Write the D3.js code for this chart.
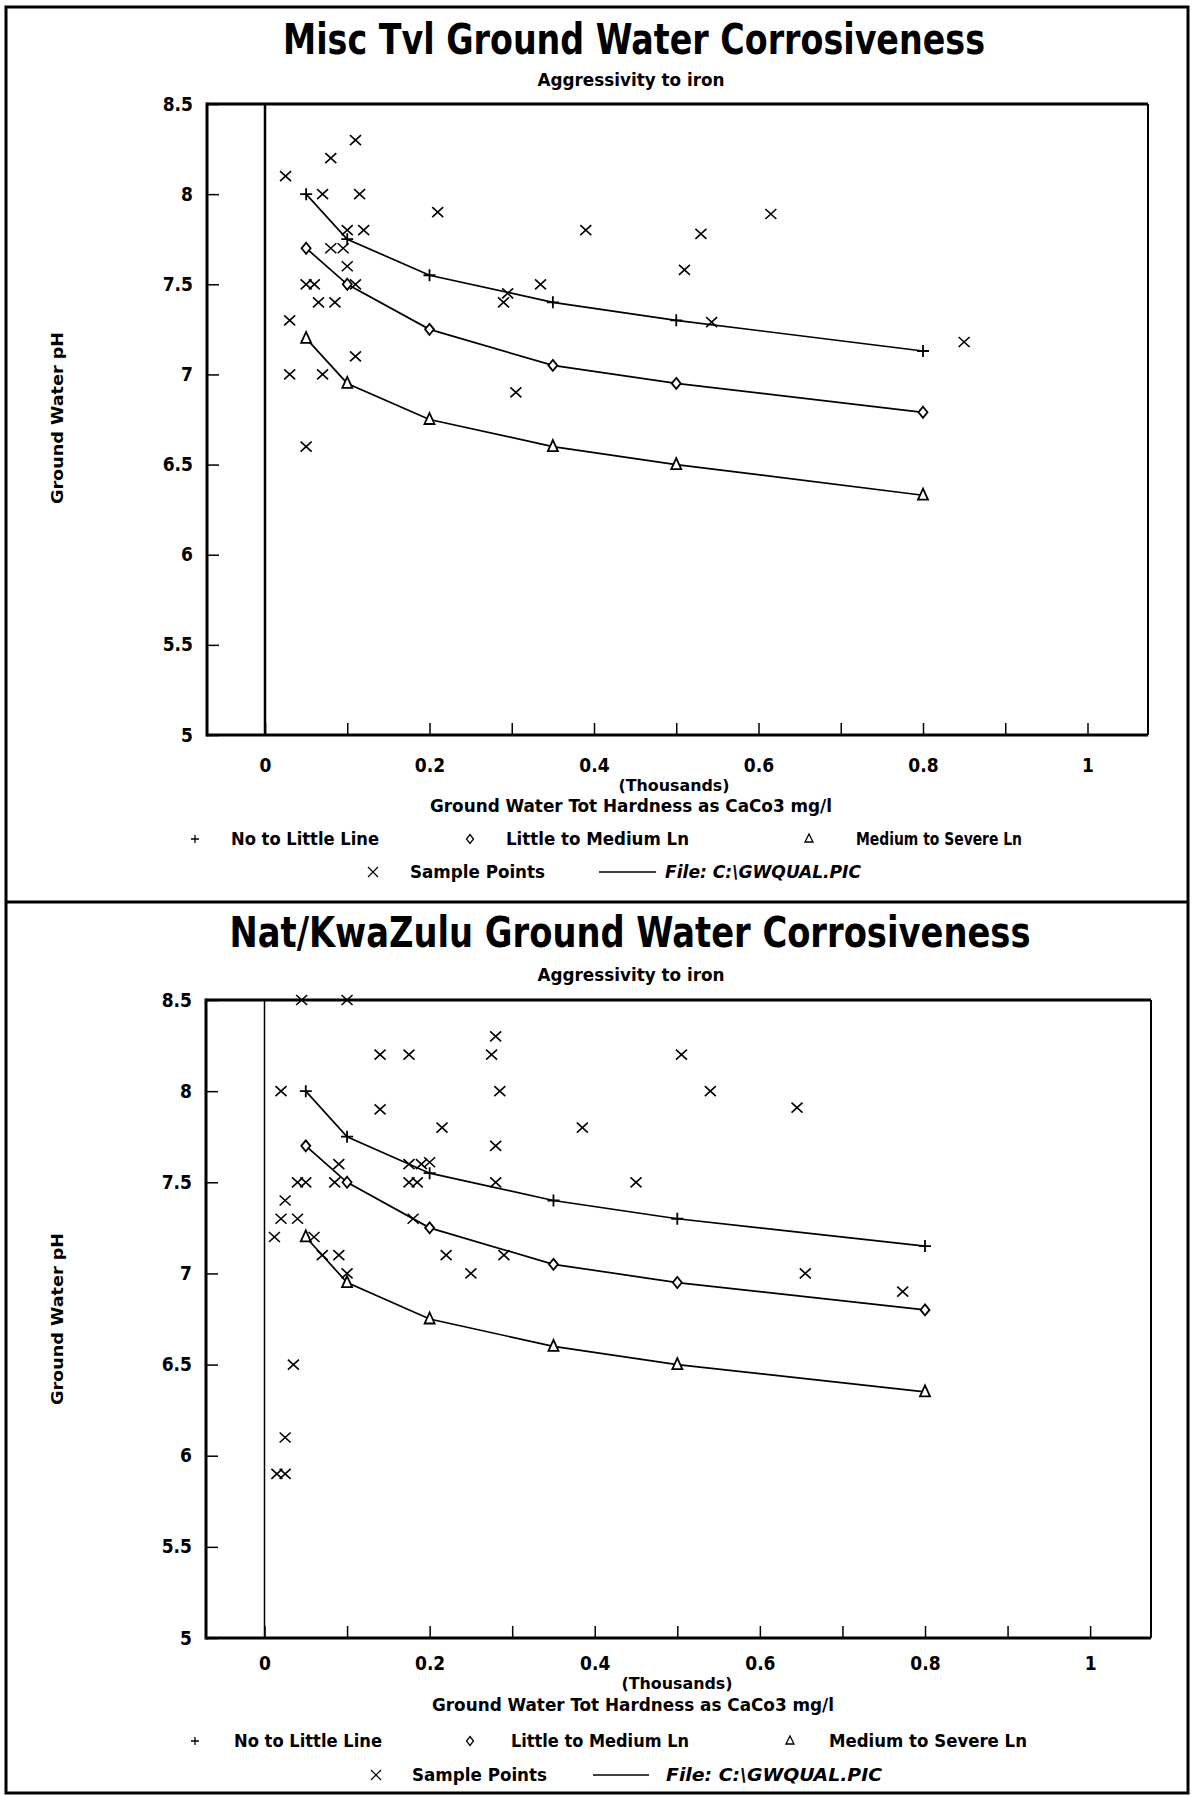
<!DOCTYPE html>
<html><head><meta charset="utf-8">
<script src="https://cdn.jsdelivr.net/npm/d3@7"></script>
<style>
body{margin:0;background:#fff}
svg text{font-family:"Liberation Sans Narrow","DejaVu Sans Condensed","Liberation Sans",Arial,sans-serif;font-weight:bold;fill:#000}
</style>
</head><body>
<svg id="c" width="1193" height="1795"></svg>
<script>
// ---------- DATA ----------
const lineX = [0.05, 0.1, 0.2, 0.35, 0.5, 0.8];

const tvlNoLittle   = [8.0, 7.75, 7.55, 7.4, 7.3, 7.13];
const tvlLittleMed  = [7.7, 7.5, 7.25, 7.05, 6.95, 6.79];
const tvlMedSevere  = [7.2, 6.95, 6.75, 6.6, 6.5, 6.33];

const natNoLittle   = [8.0, 7.75, 7.55, 7.4, 7.3, 7.15];
const natLittleMed  = [7.7, 7.5, 7.25, 7.05, 6.95, 6.8];
const natMedSevere  = [7.2, 6.95, 6.75, 6.6, 6.5, 6.35];

const tvlSampleX = [0.11, 0.08, 0.025, 0.07, 0.115, 0.21, 0.1, 0.12, 0.39, 0.53, 0.615, 0.51,
                    0.08, 0.095, 0.1, 0.05, 0.06, 0.11, 0.065, 0.085, 0.29, 0.295, 0.335, 0.543,
                    0.85, 0.03, 0.11, 0.03, 0.07, 0.305, 0.05];
const tvlSampleY = [8.3, 8.2, 8.1, 8.0, 8.0, 7.9, 7.8, 7.8, 7.8, 7.78, 7.89, 7.58,
                    7.7, 7.7, 7.6, 7.5, 7.5, 7.5, 7.4, 7.4, 7.4, 7.45, 7.5, 7.29,
                    7.18, 7.3, 7.1, 7.0, 7.0, 6.9, 6.6];

const natSampleX = [0.045, 0.1, 0.28, 0.14, 0.175, 0.275, 0.02, 0.285, 0.14, 0.215, 0.385, 0.28,
                    0.09, 0.175, 0.19, 0.2, 0.04, 0.05, 0.085, 0.175, 0.185, 0.28, 0.45, 0.025,
                    0.02, 0.04, 0.012, 0.06, 0.18, 0.07, 0.09, 0.22, 0.29, 0.25, 0.1,
                    0.505, 0.54, 0.645, 0.655, 0.773, 0.035, 0.025, 0.015, 0.025];
const natSampleY = [8.5, 8.5, 8.3, 8.2, 8.2, 8.2, 8.0, 8.0, 7.9, 7.8, 7.8, 7.7,
                    7.6, 7.6, 7.6, 7.61, 7.5, 7.5, 7.5, 7.5, 7.5, 7.5, 7.5, 7.4,
                    7.3, 7.3, 7.2, 7.2, 7.3, 7.1, 7.1, 7.1, 7.1, 7.0, 7.0,
                    8.2, 8.0, 7.91, 7.0, 6.9, 6.5, 6.1, 5.9, 5.9];

const yTicks = [5, 5.5, 6, 6.5, 7, 7.5, 8, 8.5];
const yTickLabels = ["5", "5.5", "6", "6.5", "7", "7.5", "8", "8.5"];
const xMinorTicks = [0, 0.1, 0.2, 0.3, 0.4, 0.5, 0.6, 0.7, 0.8, 0.9, 1.0];
const xTicks = [0, 0.2, 0.4, 0.6, 0.8, 1.0];
const xTickLabels = ["0", "0.2", "0.4", "0.6", "0.8", "1"];

const titles = ["Misc Tvl Ground Water Corrosiveness", "Nat/KwaZulu Ground Water Corrosiveness"];
const subtitle = "Aggressivity to iron";
const xUnit = "(Thousands)";
const xTitle = "Ground Water Tot Hardness as CaCo3 mg/l";
const yTitle = "Ground Water pH";
const legendLabels = ["No to Little Line", "Little to Medium Ln", "Medium to Severe Ln", "Sample Points", "File: C:\\GWQUAL.PIC"];

// ---------- DRAW ----------
const svg = d3.select("#c");

// outer frame + divider
svg.append("rect").attr("x", 6).attr("y", 7).attr("width", 1182).attr("height", 1786)
  .attr("fill", "none").attr("stroke", "#000").attr("stroke-width", 3);
svg.append("line").attr("x1", 6).attr("x2", 1188).attr("y1", 902).attr("y2", 902)
  .attr("stroke", "#000").attr("stroke-width", 3);

const sym = {
  plus: "M-6,0H6M0,-6V6",
  cross: "M-5.5,-5L5.5,5M5.5,-5L-5.5,5",
  diamond: "M0,-5.5L4.5,0L0,5.5L-4.5,0Z",
  tri: "M0,-6.5L5,4.5H-5Z"
};
const legSym = {
  plus: "M-4,0H4M0,-4V4",
  cross: "M-5,-5L5,5M5,-5L-5,5",
  diamond: "M0,-4.5L3.5,0L0,4.5L-3.5,0Z",
  tri: "M0,-5L4,3H-4Z"
};

function txt(g, s, x, y, size, len, anchor) {
  const t = g.append("text").attr("x", x).attr("y", y).attr("font-size", size)
    .attr("text-anchor", anchor || "middle").text(s);
  if (len) t.attr("textLength", len).attr("lengthAdjust", "spacingAndGlyphs");
  return t;
}

function panel(L) {
  const g = svg.append("g");
  const x = d3.scaleLinear().domain([0, 0.8]).range([L.x0, L.x08]);
  const y = d3.scaleLinear().domain([5, 8.5]).range([L.B, L.T]);

  txt(g, L.title, L.titleX, L.titleY, 43, L.titleW);
  txt(g, subtitle, L.subX, L.subY, 17, 187);

  // plot frame
  g.append("line").attr("x1", L.L).attr("x2", L.R).attr("y1", L.T).attr("y2", L.T).attr("stroke", "#000").attr("stroke-width", 3);
  g.append("line").attr("x1", L.L).attr("x2", L.R).attr("y1", L.B).attr("y2", L.B).attr("stroke", "#000").attr("stroke-width", 3);
  g.append("line").attr("x1", L.L).attr("x2", L.L).attr("y1", L.T - 1.5).attr("y2", L.B + 1.5).attr("stroke", "#000").attr("stroke-width", 3);
  g.append("line").attr("x1", L.R).attr("x2", L.R).attr("y1", L.T).attr("y2", L.B).attr("stroke", "#000").attr("stroke-width", 2);
  // zero line
  g.append("line").attr("x1", x(0)).attr("x2", x(0)).attr("y1", L.T).attr("y2", L.B)
    .attr("stroke", "#000").attr("stroke-width", L.zeroW);

  // y axis (inner ticks)
  const ya = d3.axisLeft(y).tickValues(yTicks).tickFormat((d, i) => yTickLabels[i]).tickSizeInner(-12).tickSizeOuter(0).tickPadding(26);
  const yg = g.append("g").attr("transform", `translate(${L.L},0)`).call(ya);
  yg.select(".domain").remove();
  yg.selectAll(".tick line").attr("stroke", "#000").attr("stroke-width", 1.5);
  yg.selectAll(".tick text").attr("font-size", 19).attr("font-family", null).attr("x", L.yLabX - L.L);

  // x axis minor ticks (inner)
  const xa = d3.axisBottom(x).tickValues(xMinorTicks).tickFormat("").tickSizeInner(-12).tickSizeOuter(0);
  const xg = g.append("g").attr("transform", `translate(0,${L.B})`).call(xa);
  xg.select(".domain").remove();
  xg.selectAll(".tick line").attr("stroke", "#000").attr("stroke-width", 1.5);
  // x labels
  const xl = d3.axisBottom(x).tickValues(xTicks).tickFormat((d, i) => xTickLabels[i]).tickSize(0).tickPadding(0);
  const xlg = g.append("g").attr("transform", `translate(0,${L.xLabY})`).call(xl);
  xlg.select(".domain").remove();
  xlg.selectAll(".tick text").attr("font-size", 19).attr("font-family", null).attr("dy", 0).attr("y", 0);

  txt(g, xUnit, L.thX, L.thY, 16, 111);
  txt(g, xTitle, L.atX, L.atY, 17, 402);
  txt(g, yTitle, 0, 0, 16, 172).attr("transform", `translate(63,${L.ytY}) rotate(-90)`);

  // lines
  const line = d3.line().x(d => x(d[0])).y(d => y(d[1]));
  const series = [[L.s1, "plus"], [L.s2, "diamond"], [L.s3, "tri"]];
  series.forEach(([vals, s]) => {
    const pts = lineX.map((v, i) => [v, vals[i]]);
    g.append("path").datum(pts).attr("d", line).attr("fill", "none").attr("stroke", "#000").attr("stroke-width", 1.7);
    g.selectAll(null).data(pts).enter().append("path")
      .attr("transform", d => `translate(${x(d[0])},${y(d[1])})`)
      .attr("d", sym[s]).attr("fill", s === "plus" ? "none" : "#fff").attr("stroke", "#000").attr("stroke-width", 1.8);
  });
  // samples
  const samp = L.sx.map((v, i) => [v, L.sy[i]]);
  g.selectAll(null).data(samp).enter().append("path")
    .attr("transform", d => `translate(${x(d[0])},${y(d[1])})`)
    .attr("d", sym.cross).attr("fill", "none").attr("stroke", "#000").attr("stroke-width", 1.6);

  // legend
  const lg = L.leg;
  const r1 = lg.r1, r2 = lg.r2;
  g.append("path").attr("transform", `translate(${lg.s1},${r1 - 6})`).attr("d", legSym.plus).attr("fill", "none").attr("stroke", "#000").attr("stroke-width", 1.3);
  txt(g, legendLabels[0], lg.t1, r1, 18, lg.w1, "start");
  g.append("path").attr("transform", `translate(${lg.s2},${r1 - 6})`).attr("d", legSym.diamond).attr("fill", "none").attr("stroke", "#000").attr("stroke-width", 1.3);
  txt(g, legendLabels[1], lg.t2, r1, 18, lg.w2, "start");
  g.append("path").attr("transform", `translate(${lg.s3},${r1 - 6})`).attr("d", legSym.tri).attr("fill", "none").attr("stroke", "#000").attr("stroke-width", 1.3);
  txt(g, legendLabels[2], lg.t3, r1, 18, lg.w3, "start");
  g.append("path").attr("transform", `translate(${lg.s4},${r2 - 6})`).attr("d", legSym.cross).attr("fill", "none").attr("stroke", "#000").attr("stroke-width", 1.2);
  txt(g, legendLabels[3], lg.t4, r2, 18, lg.w4, "start");
  g.append("line").attr("x1", lg.l1).attr("x2", lg.l2).attr("y1", r2 - 6).attr("y2", r2 - 6).attr("stroke", "#000").attr("stroke-width", 1.5);
  txt(g, legendLabels[4], lg.t5, r2, 18, lg.w5, "start").attr("font-style", "italic");
}

panel({
  title: titles[0], titleX: 634, titleY: 54, titleW: 702, subX: 631, subY: 86,
  L: 207, R: 1148, T: 104, B: 735, x0: 265, x08: 923, zeroW: 2.5,
  yLabX: 193, xLabY: 772, thX: 674, thY: 791, atX: 631, atY: 812, ytY: 418,
  s1: tvlNoLittle, s2: tvlLittleMed, s3: tvlMedSevere, sx: tvlSampleX, sy: tvlSampleY,
  leg: { r1: 845, r2: 878, s1: 195, t1: 231, w1: 148, s2: 470, t2: 506, w2: 183, s3: 809, t3: 856, w3: 166,
         s4: 373, t4: 410, w4: 135, l1: 599, l2: 656, t5: 665, w5: 196 }
});
panel({
  title: titles[1], titleX: 630, titleY: 947, titleW: 801, subX: 631, subY: 981,
  L: 206, R: 1151, T: 1000, B: 1638, x0: 264.5, x08: 925, zeroW: 1.5,
  yLabX: 192, xLabY: 1670, thX: 677, thY: 1689, atX: 633, atY: 1711, ytY: 1319,
  s1: natNoLittle, s2: natLittleMed, s3: natMedSevere, sx: natSampleX, sy: natSampleY,
  leg: { r1: 1747, r2: 1781, s1: 195, t1: 234, w1: 148, s2: 470, t2: 511, w2: 178, s3: 790, t3: 829, w3: 198,
         s4: 376, t4: 412, w4: 135, l1: 593, l2: 649, t5: 666, w5: 216 }
});
</script>
</body></html>
